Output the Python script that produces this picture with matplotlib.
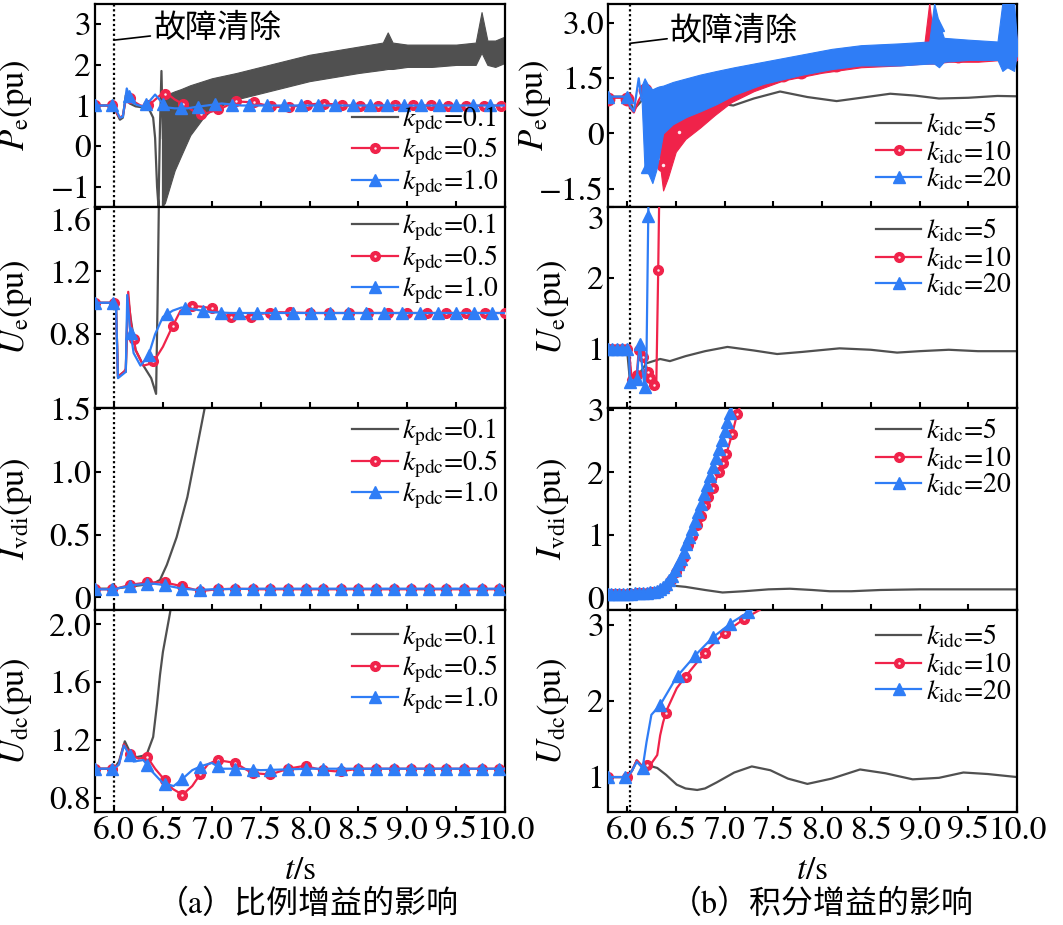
import numpy as np
import matplotlib
matplotlib.use('Agg')
import matplotlib.pyplot as plt
from matplotlib.lines import Line2D

plt.rcParams['font.family'] = ['STIXGeneral', 'Noto Sans CJK SC']
plt.rcParams['mathtext.fontset'] = 'stix'
plt.rcParams['axes.unicode_minus'] = True

GRAY = '#505050'
RED = '#f0234a'
BLUE = '#2f7df6'

labels_a = [r'$k_{\rm pdc}$=0.1', r'$k_{\rm pdc}$=0.5', r'$k_{\rm pdc}$=1.0']
labels_b = [r'$k_{\rm idc}$=5', r'$k_{\rm idc}$=10', r'$k_{\rm idc}$=20']
xticks = [6.0, 6.5, 7.0, 7.5, 8.0, 8.5, 9.0, 9.5, 10.0]

# ---------------- (a) proportional gain ----------------
# A1: Pe
a1_gray_t = [5.8, 6.0, 6.03, 6.06, 6.09, 6.12, 6.16, 6.22, 6.3, 6.36, 6.40, 6.42, 6.44, 6.455, 6.47, 6.485, 6.5]
a1_gray_v = [1.0, 1.0, 0.8, 0.65, 0.7, 1.25, 1.05, 0.98, 0.95, 0.9, 0.7, 0.2, -1.0, -1.5, 0.5, 1.85, 0.2]
a1_band_t = [6.49, 6.52, 6.57, 6.62, 6.68, 6.78, 6.91, 7.0, 7.25, 7.5, 7.75, 8.0, 8.25, 8.5, 8.75, 8.8, 8.85,
             9.0, 9.25, 9.5, 9.7, 9.76, 9.82, 9.9, 10.0]
a1_band_lo = [-1.5, -1.4, -1.0, -0.6, -0.27, 0.27, 0.69, 0.9, 1.15, 1.3, 1.45, 1.6, 1.7, 1.8, 1.88, 1.9, 1.9,
              1.95, 1.95, 2.0, 2.0, 2.3, 2.0, 1.95, 2.05]
a1_band_hi = [1.3, 1.2, 1.3, 1.35, 1.4, 1.5, 1.6, 1.67, 1.8, 1.95, 2.1, 2.25, 2.35, 2.45, 2.55, 2.8, 2.55,
              2.5, 2.5, 2.5, 2.55, 3.3, 2.6, 2.6, 2.7]
a1_red_t = [5.8, 6.0, 6.03, 6.06, 6.09, 6.12, 6.16, 6.2, 6.27, 6.33, 6.4, 6.47, 6.54, 6.62, 6.73, 6.82, 6.9, 7.0,
            7.1, 7.24, 7.42, 7.6, 7.77, 7.95, 8.13, 8.3, 8.48, 8.7, 9.0, 9.3, 9.6, 10.0]
a1_red_v = [1.0, 1.0, 0.8, 0.7, 0.75, 1.15, 1.2, 1.1, 1.0, 0.98, 1.1, 1.25, 1.3, 1.15, 1.0, 0.85, 0.78, 0.85,
            0.93, 1.1, 1.08, 0.98, 0.95, 1.02, 1.05, 1.02, 0.98, 1.0, 1.0, 1.0, 0.99, 1.0]
a1_blue_t = [5.8, 6.0, 6.03, 6.06, 6.09, 6.13, 6.17, 6.23, 6.3, 6.36, 6.42, 6.48, 6.55, 6.62, 6.75, 6.85, 6.95,
             7.1, 7.3, 7.5, 8.0, 8.5, 9.0, 9.5, 10.0]
a1_blue_v = [1.0, 1.0, 0.85, 0.7, 0.72, 1.42, 1.1, 1.02, 0.97, 1.1, 1.27, 1.1, 0.95, 0.93, 0.93, 0.97, 1.0,
             1.05, 1.0, 1.0, 1.0, 1.0, 1.0, 1.0, 1.0]

# A2: Ue
a2_gray_t = [5.8, 6.0, 6.02, 6.04, 6.1, 6.12, 6.14, 6.17, 6.22, 6.3, 6.38, 6.43, 6.445, 6.46, 6.5]
a2_gray_v = [1.0, 1.0, 0.98, 0.53, 0.56, 0.56, 1.05, 0.9, 0.7, 0.6, 0.52, 0.42, 1.0, 1.7, 1.7]
a2_red_t = [5.8, 6.0, 6.02, 6.04, 6.1, 6.12, 6.145, 6.17, 6.22, 6.3, 6.36, 6.42, 6.5, 6.59, 6.68, 6.8, 6.9, 7.0,
            7.1, 7.19, 7.3, 7.4, 7.5, 7.7, 8.0, 8.5, 9.0, 9.5, 10.0]
a2_red_v = [1.0, 1.0, 0.98, 0.53, 0.56, 0.58, 1.07, 0.88, 0.7, 0.6, 0.61, 0.64, 0.72, 0.84, 0.95, 0.98, 0.975,
            0.965, 0.93, 0.91, 0.91, 0.91, 0.93, 0.94, 0.935, 0.935, 0.935, 0.935, 0.935]
a2_blue_t = [5.8, 6.0, 6.02, 6.04, 6.1, 6.12, 6.135, 6.16, 6.2, 6.27, 6.35, 6.42, 6.5, 6.6, 6.69, 6.8, 7.0, 7.2,
             7.5, 8.0, 8.5, 9.0, 9.5, 10.0]
a2_blue_v = [1.0, 1.0, 0.98, 0.52, 0.55, 0.56, 1.05, 0.85, 0.68, 0.6, 0.66, 0.8, 0.91, 0.95, 0.97, 0.96, 0.94,
             0.935, 0.935, 0.935, 0.935, 0.935, 0.935, 0.935]

# A3: Ivdi
a3_gray_t = [5.8, 6.0, 6.1, 6.2, 6.3, 6.4, 6.47, 6.54, 6.64, 6.75, 6.85, 6.92, 6.95]
a3_gray_v = [0.07, 0.07, 0.08, 0.09, 0.1, 0.11, 0.14, 0.26, 0.48, 0.8, 1.2, 1.48, 1.6]
a3_red_t = [5.8, 6.0, 6.16, 6.34, 6.52, 6.69, 6.88, 7.05, 7.24, 7.5, 8.0, 8.5, 9.0, 9.5, 10.0]
a3_red_v = [0.065, 0.065, 0.1, 0.12, 0.12, 0.09, 0.05, 0.065, 0.07, 0.065, 0.065, 0.065, 0.065, 0.065, 0.065]
a3_blue_t = [5.8, 6.0, 6.2, 6.4, 6.5, 6.7, 6.85, 7.0, 7.5, 8.0, 8.5, 9.0, 9.5, 10.0]
a3_blue_v = [0.065, 0.065, 0.1, 0.11, 0.1, 0.07, 0.06, 0.065, 0.07, 0.07, 0.07, 0.07, 0.07, 0.07]

# A4: Udc
a4_gray_t = [5.8, 6.0, 6.05, 6.11, 6.16, 6.23, 6.3, 6.34, 6.4, 6.44, 6.47, 6.5, 6.57, 6.59]
a4_gray_v = [1.0, 1.0, 1.05, 1.19, 1.12, 1.08, 1.09, 1.11, 1.22, 1.45, 1.65, 1.81, 2.07, 2.15]
a4_red_t = [5.8, 6.0, 6.05, 6.1, 6.16, 6.25, 6.34, 6.42, 6.52, 6.6, 6.7, 6.8, 6.88, 6.96, 7.05, 7.15, 7.24,
            7.41, 7.6, 7.78, 7.95, 8.13, 8.3, 8.5, 9.0, 9.5, 10.0]
a4_red_v = [1.0, 1.0, 1.03, 1.17, 1.1, 1.07, 1.08, 1.0, 0.92, 0.86, 0.82, 0.88, 0.96, 1.03, 1.06, 1.05, 1.04,
            0.97, 0.96, 1.0, 1.02, 0.99, 0.98, 1.0, 1.0, 1.0, 1.0]
a4_blue_t = [5.8, 6.0, 6.05, 6.1, 6.2, 6.3, 6.39, 6.5, 6.61, 6.7, 6.8, 6.9, 7.0, 7.1, 7.3, 7.5, 8.0, 8.5, 9.0,
             9.5, 10.0]
a4_blue_v = [1.0, 1.0, 1.03, 1.16, 1.05, 1.06, 0.98, 0.9, 0.88, 0.93, 0.99, 1.02, 1.04, 1.0, 1.0, 0.99, 1.0,
             1.0, 1.0, 1.0, 1.0]

# ---------------- (b) integral gain ----------------
# B1: Pe
b1_gray_t = [5.8, 6.0, 6.03, 6.07, 6.12, 6.2, 6.32, 6.54, 6.72, 6.88, 7.09, 7.3, 7.57, 7.85, 8.15, 8.4, 8.7,
             8.95, 9.2, 9.5, 9.8, 10.0]
b1_gray_v = [1.0, 1.0, 0.85, 0.65, 0.8, 1.05, 1.22, 1.25, 1.1, 0.84, 0.76, 0.95, 1.14, 0.99, 0.88, 0.97, 1.08,
             1.03, 0.95, 0.97, 1.02, 1.01]
b1_red_t = [5.8, 6.0, 6.03, 6.07, 6.12, 6.18, 6.25, 6.3]
b1_red_v = [0.97, 0.97, 0.7, 0.57, 0.9, 1.17, 1.0, 0.5]
b1_redband_t = [6.30, 6.34, 6.37, 6.42, 6.5, 6.6, 6.75, 6.9, 7.07, 7.3, 7.6, 8.0, 8.4, 8.8, 9.05, 9.1, 9.15,
                9.3, 9.6, 9.85, 9.9, 9.95, 10.0]
b1_redband_lo = [0.5, -0.9, -1.55, -1.2, -0.5, -0.15, 0.16, 0.5, 0.85, 1.15, 1.44, 1.65, 1.8, 1.85, 1.9, 1.9,
                 1.9, 1.95, 1.95, 2.0, 1.8, 1.9, 2.0]
b1_redband_hi = [1.0, 0.3, 0.2, 0.35, 0.6, 0.85, 1.1, 1.3, 1.5, 1.7, 1.9, 2.15, 2.3, 2.4, 2.45, 3.55, 2.45,
                 2.4, 2.4, 2.45, 3.55, 3.55, 2.5]
b1_red_mk_t = [5.8, 6.0, 6.18, 6.37, 6.53, 7.07, 7.6, 7.78, 8.14, 9.39, 9.57]
b1_red_mk_v = [0.95, 0.95, 1.17, -0.87, 0.03, 1.1, 1.6, 1.68, 1.87, 2.1, 2.15]
b1_blue_t = [5.8, 6.0, 6.03, 6.07, 6.12, 6.15]
b1_blue_v = [1.0, 1.0, 0.75, 0.6, 1.5, 0.9]
b1_blueband_t = [6.15, 6.18, 6.22, 6.26, 6.3, 6.33, 6.37, 6.47, 6.61, 6.75, 6.92, 7.1, 7.4, 7.8, 8.1, 8.4, 8.8,
                 9.1, 9.15, 9.2, 9.25, 9.5, 9.8, 9.85, 9.9, 9.97, 10.0]
b1_blueband_lo = [0.9, -1.0, -1.1, -1.35, -1.0, -0.6, 0.0, 0.25, 0.45, 0.6, 0.8, 1.05, 1.35, 1.6, 1.75, 1.85,
                  1.85, 1.9, 1.9, 1.8, 1.95, 2.0, 2.0, 1.7, 1.8, 1.7, 2.2]
b1_blueband_hi = [1.3, 1.5, 1.3, 1.2, 1.25, 1.28, 1.3, 1.4, 1.5, 1.6, 1.7, 1.8, 1.95, 2.15, 2.3, 2.4, 2.45,
                  2.5, 3.55, 3.0, 2.6, 2.55, 2.5, 3.55, 3.55, 3.55, 2.5]
b1_blue_mk_t = [5.8, 6.0, 6.2, 9.19, 10.0]
b1_blue_mk_v = [1.0, 1.0, -0.92, 2.95, 2.26]

# B2: Ue
b2_gray_t = [5.8, 6.0, 6.03, 6.1, 6.2, 6.34, 6.44, 6.6, 6.8, 7.03, 7.3, 7.54, 7.8, 8.18, 8.5, 8.77, 9.0, 9.3,
             9.6, 10.0]
b2_gray_v = [1.0, 1.0, 0.55, 0.6, 0.8, 0.86, 0.83, 0.9, 0.97, 1.03, 0.98, 0.93, 0.96, 1.01, 0.99, 0.95, 0.97,
             0.99, 0.97, 0.97]
b2_red_t = [5.8, 6.0, 6.02, 6.05, 6.1, 6.12, 6.16, 6.22, 6.24, 6.28, 6.3, 6.32, 6.33]
b2_red_v = [1.0, 1.0, 0.98, 0.56, 0.63, 0.98, 0.89, 0.68, 0.59, 0.49, 0.47, 2.11, 3.1]
b2_blue_t = [5.8, 6.0, 6.02, 6.03, 6.1, 6.13, 6.16, 6.18, 6.2, 6.21, 6.22]
b2_blue_v = [1.0, 1.0, 0.98, 0.54, 0.58, 1.07, 0.7, 0.47, 0.9, 2.0, 3.1]

# B3: Ivdi
b3_gray_t = [5.8, 6.0, 6.2, 6.35, 6.47, 6.6, 6.8, 6.98, 7.2, 7.45, 7.67, 7.9, 8.08, 8.3, 8.6, 9.0, 9.5, 10.0]
b3_gray_v = [0.08, 0.08, 0.1, 0.15, 0.19, 0.17, 0.12, 0.08, 0.1, 0.13, 0.14, 0.12, 0.1, 0.1, 0.12, 0.13, 0.13,
             0.13]
b3_red_t = [5.8, 6.0, 6.2, 6.3, 6.4, 6.47, 6.58, 6.67, 6.76, 6.83, 6.88, 6.94, 7.02, 7.08, 7.13, 7.16]
b3_red_v = [0.05, 0.06, 0.07, 0.09, 0.16, 0.32, 0.64, 0.99, 1.3, 1.6, 1.75, 2.0, 2.3, 2.62, 2.94, 3.05]
b3_blue_t = [5.8, 6.0, 6.2, 6.3, 6.38, 6.45, 6.55, 6.65, 6.75, 6.85, 6.95, 7.05, 7.08]
b3_blue_v = [0.05, 0.06, 0.07, 0.1, 0.17, 0.32, 0.62, 1.0, 1.45, 1.95, 2.42, 2.9, 3.05]

# B4: Udc
b4_gray_t = [5.8, 6.0, 6.05, 6.1, 6.15, 6.2, 6.31, 6.4, 6.51, 6.6, 6.72, 6.8, 6.92, 7.1, 7.28, 7.47, 7.65, 7.85,
             8.1, 8.39, 8.65, 8.93, 9.2, 9.45, 9.7, 10.0]
b4_gray_v = [1.0, 1.0, 1.08, 1.22, 1.15, 1.16, 1.12, 1.03, 0.9, 0.85, 0.83, 0.85, 0.93, 1.06, 1.14, 1.09, 0.98,
             0.91, 0.98, 1.1, 1.05, 0.97, 0.99, 1.06, 1.04, 1.0]
b4_red_t = [5.8, 6.0, 6.05, 6.1, 6.15, 6.25, 6.31, 6.34, 6.37, 6.41, 6.51, 6.61, 6.8, 7.0, 7.21, 7.36]
b4_red_v = [1.0, 1.0, 1.08, 1.22, 1.15, 1.18, 1.29, 1.55, 1.72, 1.89, 2.17, 2.34, 2.64, 2.9, 3.09, 3.2]
b4_blue_t = [5.8, 6.0, 6.05, 6.1, 6.16, 6.2, 6.25, 6.34, 6.51, 6.72, 6.88, 7.08, 7.24, 7.28]
b4_blue_v = [1.0, 1.0, 1.08, 1.2, 1.12, 1.46, 1.82, 1.95, 2.32, 2.63, 2.84, 3.04, 3.17, 3.2]

# marker sampling times (where the symbols sit along each curve)
b2_red_mk = [5.8, 5.85, 5.9, 5.95, 6.0, 6.05, 6.1, 6.12, 6.16, 6.22, 6.24, 6.28, 6.32]
b2_blue_mk = [5.8, 5.85, 5.9, 5.95, 6.0, 6.03, 6.1, 6.13, 6.18, 6.218]
b3_red_mk = [5.8, 5.85, 5.9, 5.95, 6.0, 6.05, 6.1, 6.15, 6.2, 6.25, 6.3, 6.35, 6.4, 6.45, 6.5, 6.54, 6.58, 6.63,
             6.67, 6.72, 6.76, 6.8, 6.83, 6.88, 6.94, 6.98, 7.02, 7.08, 7.13]
b3_blue_mk = [5.8, 5.84, 5.88, 5.92, 5.96, 6.0, 6.04, 6.08, 6.12, 6.16, 6.2, 6.24, 6.28, 6.31, 6.34, 6.37,
              6.4, 6.43, 6.46, 6.49, 6.52, 6.55, 6.58, 6.61, 6.64, 6.67, 6.7, 6.73, 6.76, 6.79, 6.82, 6.85,
              6.88, 6.91, 6.94, 6.97, 7.0, 7.03, 7.06]

# ---------------- figure ----------------
W, H = 1063, 925
fig = plt.figure(figsize=(W / 100, H / 100), dpi=100)
col_x = [(95, 410), (608, 409)]
rows = [(4, 207), (207, 408), (408, 610), (610, 812)]
axes = [[None] * 4 for _ in range(2)]
for c, (x0, w) in enumerate(col_x):
    for r, (top, bot) in enumerate(rows):
        axes[c][r] = fig.add_axes([x0 / W, 1 - bot / H, w / W, (bot - top) / H])

LW = 1.6
MS_R = 7
MS_B = 8
MS_W = 1.8


def mk_times(t, t0, dt):
    return np.arange(t0, max(t) + 1e-9, dt)


def gray_line(ax, t, v):
    ax.plot(t, v, color=GRAY, lw=LW, zorder=2)


def red_line(ax, t, v, tm):
    ax.plot(t, v, color=RED, lw=LW, zorder=3)
    tm = np.asarray(tm)
    ym = np.interp(tm, t, v)
    ax.plot(tm, ym, ls='none', marker='o', ms=MS_R, mfc=RED, mec=RED, zorder=3.1)
    ax.plot(tm, ym, ls='none', marker='o', ms=MS_W, mfc='#ffe8ee', mec='none', zorder=3.2)


def blue_line(ax, t, v, tm):
    ax.plot(t, v, color=BLUE, lw=LW, zorder=4)
    tm = np.asarray(tm)
    ax.plot(tm, np.interp(tm, t, v), ls='none', marker='^', ms=MS_B, mfc=BLUE, mec=BLUE, zorder=4.1)


def legend(ax, labels, loc, anchor):
    h = [Line2D([], [], color=GRAY, lw=LW),
         (Line2D([], [], color=RED, lw=LW, marker='o', ms=MS_R),
          Line2D([], [], ls='none', marker='o', ms=MS_W, mfc='#ffe8ee', mec='none')),
         Line2D([], [], color=BLUE, lw=LW, marker='^', ms=MS_B)]
    ax.legend(h, labels, loc=loc, bbox_to_anchor=anchor, frameon=False, fontsize=20,
              handlelength=1.65, handletextpad=0.15, labelspacing=0.0, borderaxespad=0.0,
              borderpad=0.0)


# (a)
ax = axes[0][0]
gray_line(ax, a1_gray_t, a1_gray_v)
ax.fill_between(a1_band_t, a1_band_lo, a1_band_hi, color=GRAY, lw=0.8, zorder=2)
red_line(ax, a1_red_t, a1_red_v, mk_times(a1_red_t, 5.8, 0.181))
blue_line(ax, a1_blue_t, a1_blue_v, mk_times(a1_blue_t, 5.8, 0.176))

ax = axes[0][1]
gray_line(ax, a2_gray_t, a2_gray_v)
red_line(ax, a2_red_t, a2_red_v, mk_times(a2_red_t, 5.8, 0.2))
blue_line(ax, a2_blue_t, a2_blue_v, mk_times(a2_blue_t, 5.8, 0.185))

ax = axes[0][2]
gray_line(ax, a3_gray_t, a3_gray_v)
red_line(ax, a3_red_t, a3_red_v, mk_times(a3_red_t, 5.8, 0.18))
blue_line(ax, a3_blue_t, a3_blue_v, mk_times(a3_blue_t, 5.8, 0.18))

ax = axes[0][3]
gray_line(ax, a4_gray_t, a4_gray_v)
red_line(ax, a4_red_t, a4_red_v, mk_times(a4_red_t, 5.8, 0.18))
blue_line(ax, a4_blue_t, a4_blue_v, mk_times(a4_blue_t, 5.8, 0.18))

# (b)
ax = axes[1][0]
gray_line(ax, b1_gray_t, b1_gray_v)
ax.plot(b1_red_t, b1_red_v, color=RED, lw=LW, zorder=3)
ax.fill_between(b1_redband_t, b1_redband_lo, b1_redband_hi, color=RED, lw=0.8, zorder=3)
ax.plot(b1_red_mk_t, b1_red_mk_v, ls='none', marker='o', ms=9, color=RED, zorder=3.2)
ax.plot(b1_red_mk_t, b1_red_mk_v, ls='none', marker='o', ms=2.5, mfc='#ffe8ee', mec='none', zorder=3.3)
ax.plot(b1_blue_t, b1_blue_v, color=BLUE, lw=LW, zorder=4)
ax.fill_between(b1_blueband_t, b1_blueband_lo, b1_blueband_hi, color=BLUE, lw=0.8, zorder=4)
ax.plot(b1_blue_mk_t, b1_blue_mk_v, ls='none', marker='^', ms=9, color=BLUE, zorder=4.2)

ax = axes[1][1]
gray_line(ax, b2_gray_t, b2_gray_v)
red_line(ax, b2_red_t, b2_red_v, b2_red_mk)
blue_line(ax, b2_blue_t, b2_blue_v, b2_blue_mk)

ax = axes[1][2]
gray_line(ax, b3_gray_t, b3_gray_v)
red_line(ax, b3_red_t, b3_red_v, b3_red_mk)
blue_line(ax, b3_blue_t, b3_blue_v, b3_blue_mk)

ax = axes[1][3]
gray_line(ax, b4_gray_t, b4_gray_v)
red_line(ax, b4_red_t, b4_red_v, mk_times(b4_red_t, 5.8, 0.2))
blue_line(ax, b4_blue_t, b4_blue_v, mk_times(b4_blue_t, 5.8, 0.18))

# axes formatting
ylims = [[(-1.5, 3.5), (0.33, 1.61), (-0.1, 1.51), (0.70, 2.10)],
         [(-2.0, 3.52), (0.17, 3.0), (-0.2, 3.03), (0.54, 3.2)]]
yticks = [[[-1, 0, 1, 2, 3], [0.8, 1.2, 1.6], [0, 0.5, 1.0, 1.5], [0.8, 1.2, 1.6, 2.0]],
          [[-1.5, 0, 1.5, 3.0], [1, 2, 3], [0, 1, 2, 3], [1, 2, 3]]]
ytl = [[['\u22121', '0', '1', '2', '3'], ['0.8', '1.2', '1.6'], ['0', '0.5', '1.0', '1.5'],
        ['0.8', '1.2', '1.6', '2.0']],
       [['\u22121.5', '0', '1.5', '3.0'], ['1', '2', '3'], ['0', '1', '2', '3'], ['1', '2', '3']]]
ylabels = [r'$P_{\rm e}$(pu)', r'$U_{\rm e}$(pu)', r'$I_{\rm vdi}$(pu)', r'$U_{\rm dc}$(pu)']
fault_t = [6.0, 6.03]
label_x = [[-0.148] * 4, [-0.135, -0.09, -0.09, -0.09]]
leg_pos = [[('lower right', (0.985, 0.04)), ('upper right', (0.985, 0.975)),
            ('upper right', (0.985, 0.955)), ('upper right', (0.985, 0.94))],
           [('lower right', (0.985, 0.07)), ('upper right', (0.985, 0.95)),
            ('upper right', (0.985, 0.955)), ('upper right', (0.985, 0.935))]]
for c in range(2):
    for r in range(4):
        ax = axes[c][r]
        ax.set_xlim(5.805, 10.0)
        ax.set_ylim(*ylims[c][r])
        ax.set_xticks(xticks)
        ax.set_yticks(yticks[c][r])
        ax.set_yticklabels(ytl[c][r])
        if r == 3:
            ax.set_xticklabels(['%.1f' % x for x in xticks])
            ax.set_xlabel(r'$t$/s', fontsize=24, labelpad=8)
        else:
            ax.set_xticklabels([])
        ax.tick_params(direction='in', length=4, width=1.5, labelsize=24, pad=3)
        for s in ax.spines.values():
            s.set_linewidth(1.6)
        ax.axvline(fault_t[c], color='black', lw=1.6, ls=(0, (1, 1.2)), zorder=1)
        ax.set_ylabel(ylabels[r], fontsize=25)
        ax.yaxis.set_label_coords(label_x[c][r], 0.5)
        legend(ax, labels_a if c == 0 else labels_b, *leg_pos[c][r])
        if r == 1:
            # the top label of the second row sits just below the panel edge, as in the original
            ax.get_yticklabels()[-1].set_verticalalignment('top')

# fault-clear annotations
axes[0][0].annotate('故障清除', xy=(6.0, 2.61), xytext=(6.40, 2.9), fontsize=23, va='center', ha='left',
                    arrowprops=dict(arrowstyle='-', color='black', lw=1.2, shrinkA=0, shrinkB=0),
                    family=['Noto Sans CJK SC'])
axes[1][0].annotate('故障清除', xy=(6.03, 2.45), xytext=(6.44, 2.8), fontsize=23, va='center', ha='left',
                    arrowprops=dict(arrowstyle='-', color='black', lw=1.2, shrinkA=0, shrinkB=0),
                    family=['Noto Sans CJK SC'])

fig.text(308 / W, 1 - 905 / H, '（a）比例增益的影响', fontsize=23, ha='center', va='center',
         family=['STIXGeneral', 'Noto Sans CJK SC'])
fig.text(822 / W, 1 - 905 / H, '（b）积分增益的影响', fontsize=23, ha='center', va='center',
         family=['STIXGeneral', 'Noto Sans CJK SC'])

fig.savefig('out.png', dpi=100)
